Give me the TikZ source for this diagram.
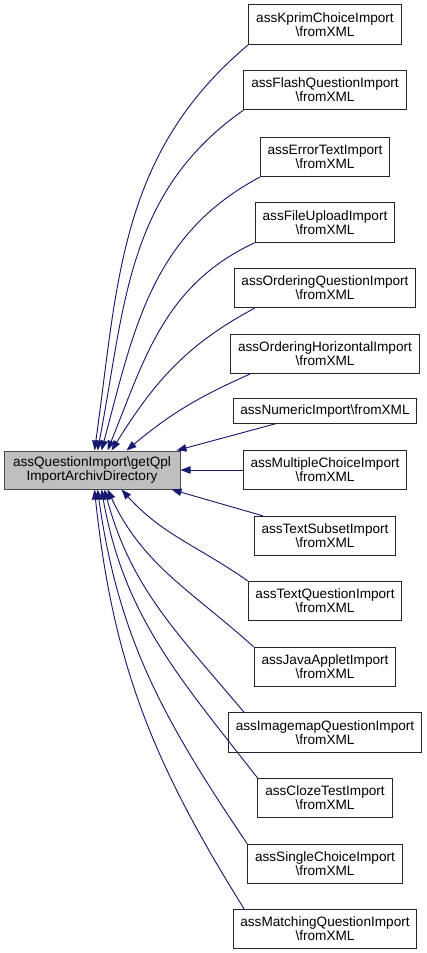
\documentclass[tikz,border=0pt]{standalone}
\usepackage{fontspec}
\setmainfont{Liberation Sans}
\usepackage{xcolor}
\usetikzlibrary{arrows.meta}

\definecolor{edgeblue}{HTML}{191970}
\newcommand{\fromxml}{\textbackslash fromXML}

\tikzset{
  fnbox/.style={draw=black!85, line width=0.75pt, fill=white, align=center, inner xsep=5.5pt, inner ysep=1pt,
    minimum height=29.5pt, font=\fontsize{10.2}{10.4}\selectfont},
  curbox/.style={fnbox, fill=black!25, draw=black!70, minimum width=132pt, minimum height=28.5pt},
  call/.style={draw=edgeblue, line width=0.7pt, -{Triangle[length=7.5pt,width=5.5pt]}, fill=none}
}

\begin{document}
\begin{tikzpicture}[x=0.75pt,y=0.75pt]
    \useasboundingbox (0,0) rectangle (427,-953);
    % the function called by all the importers
    \node[curbox] (main) at (92,-470) {assQuestionImport\textbackslash getQpl\\ImportArchivDirectory};
    % callers: name / centre y (px) / label
    \foreach \id/\y/\txt in {kprim/24.5/assKprimChoiceImport\\\fromxml,
        flash/90/assFlashQuestionImport\\\fromxml,
        errtext/157/assErrorTextImport\\\fromxml,
        upload/222.5/assFileUploadImport\\\fromxml,
        orderq/288/assOrderingQuestionImport\\\fromxml,
        orderh/354/assOrderingHorizontalImport\\\fromxml,
        multi/470/assMultipleChoiceImport\\\fromxml,
        subset/536/assTextSubsetImport\\\fromxml,
        textq/601/assTextQuestionImport\\\fromxml,
        java/667/assJavaAppletImport\\\fromxml,
        imgmap/732.5/assImagemapQuestionImport\\\fromxml,
        cloze/798/assClozeTestImport\\\fromxml,
        single/864/assSingleChoiceImport\\\fromxml,
        matching/929/assMatchingQuestionImport\\\fromxml} {
      \node[fnbox] (\id) at (325,-\y) {\txt};
    }
    \node[fnbox, minimum height=18.75pt] (numeric) at (325,-410.5) {assNumericImport\fromxml};

    % edges into the top side: name / start anchor / x on main (px) / out / in
    \foreach \id/\an/\tx/\o/\i in {kprim/south west/91/220/82, flash/south west/94/215/79,
        errtext/south west/98/208/75, upload/south west/104/205/68,
        orderq/196/108/208/58, orderh/195/123/204/40} {
      \draw[call] (\id.\an) to[out=\o,in=\i] ([xshift=\tx*0.75pt]main.north west);
    }
    \draw[call] (numeric.195) -- ([xshift=173*0.75pt]main.north west);
    \draw[call] (multi) -- (main);
    \draw[call] (subset.162) -- ([xshift=168*0.75pt]main.south west);
    % edges into the bottom side
    \foreach \id/\an/\tx/\o/\i in {textq/north west/118/145/312, java/north west/104/138/295,
        imgmap/166/101/130/285, cloze/north west/98/128/280,
        single/north west/94/124/278, matching/166/91/122/276} {
      \draw[call] (\id.\an) to[out=\o,in=\i] ([xshift=\tx*0.75pt]main.south west);
    }
\end{tikzpicture}
\end{document}
